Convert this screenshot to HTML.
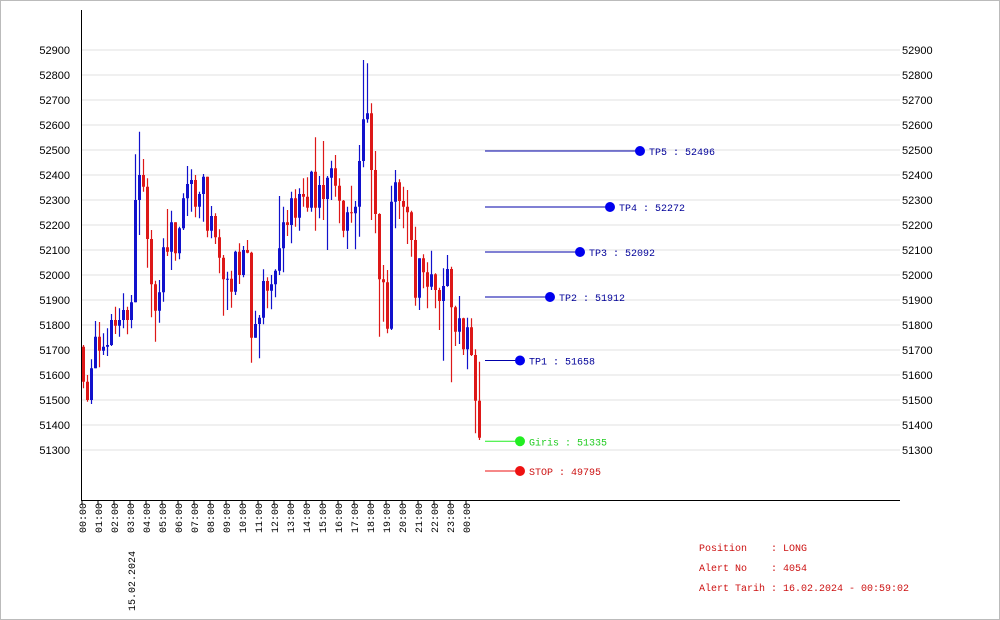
<!DOCTYPE html>
<html><head><meta charset="utf-8"><style>
html,body{margin:0;padding:0;background:#fff}
svg{display:block}
text{font-family:"Liberation Mono",monospace;font-size:10px}
.ax{font-family:"Liberation Sans",sans-serif;font-size:11px;fill:#000}
</style></head><body>
<svg id="chart" width="1000" height="620" viewBox="0 0 1000 620" xmlns="http://www.w3.org/2000/svg">
<rect x="0.5" y="0.5" width="999" height="619" fill="#fff" stroke="#bbb"/>
<g id="grid"></g><g id="candles"></g><g id="levels"></g><g id="axes"></g>
<g fill="#cc1111">
<text x="699" y="551" xml:space="preserve">Position    : LONG</text>
<text x="699" y="571" xml:space="preserve">Alert No    : 4054</text>
<text x="699" y="591" xml:space="preserve">Alert Tarih : 16.02.2024 - 00:59:02</text>
</g>
</svg>
<script>
const opens=[51713,51573,51500,51627,51753,51697,51713,51720,51820,51797,51820,51860,51820,51891,52300,52400,52353,52144,51963,51857,51931,52111,52093,52211,52087,52187,52307,52364,52380,52273,52324,52393,52177,52236,52151,52069,51983,51985,51933,52093,52000,52100,52089,51749,51804,51829,51976,51937,51963,52017,52107,52211,52200,52307,52229,52324,52313,52269,52413,52269,52360,52304,52389,52427,52357,52297,52177,52251,52247,52273,52456,52623,52647,52420,52244,51983,51971,51785,52293,52371,52296,52273,52251,52140,51909,52067,52011,51953,52003,51940,51896,51956,52024,51871,51773,51827,51703,51791,51680,51497];
const highs=[51720,51600,51663,51816,51812,51767,51787,51844,51873,51867,51927,51873,51920,52483,52573,52464,52387,52180,51977,51980,52147,52264,52257,52211,52193,52327,52436,52423,52400,52333,52404,52393,52276,52247,52183,52080,52013,52017,52097,52127,52116,52140,52093,51857,51840,52023,51991,52000,52023,52316,52273,52260,52333,52343,52347,52387,52391,52417,52551,52396,52536,52396,52457,52480,52387,52300,52273,52357,52296,52520,52860,52847,52687,52496,52247,52040,52020,52357,52420,52383,52353,52340,52257,52193,52067,52083,52051,52097,52007,51949,52027,52080,52033,51877,51916,51829,51829,51827,51703,51653];
const lows=[51547,51493,51484,51627,51631,51680,51676,51716,51764,51753,51787,51763,51787,51891,52160,52333,52029,51831,51733,51809,51893,52076,52020,52057,52063,52180,52236,52253,52231,52227,52213,52151,52147,52124,52007,51837,51860,51869,51920,51964,51991,52087,51649,51749,51667,51803,51867,51863,51911,52000,52011,52156,52127,52193,52177,52273,52253,52253,52177,52227,52220,52100,52300,52313,52207,52151,52104,52209,52103,52153,52431,52609,52220,52167,51753,51813,51767,51780,52187,52224,52187,52124,52073,51877,51860,51947,51867,51940,51867,51780,51657,51953,51571,51716,51724,51680,51623,51676,51367,51340];
const closes=[51573,51500,51627,51753,51697,51713,51720,51820,51797,51820,51860,51820,51891,52300,52400,52353,52144,51963,51857,51931,52111,52093,52211,52087,52187,52307,52364,52380,52273,52324,52393,52177,52236,52151,52069,51983,51985,51933,52093,52000,52100,52089,51749,51804,51829,51976,51937,51963,52017,52107,52211,52200,52307,52229,52324,52313,52269,52413,52269,52360,52304,52389,52427,52357,52297,52177,52251,52247,52273,52456,52623,52647,52420,52244,51983,51971,51785,52293,52371,52296,52273,52251,52140,51909,52067,52011,51953,52003,51940,51896,51956,52024,51871,51773,51827,51703,51791,51680,51497,51349];
const yTicks=[52900,52800,52700,52600,52500,52400,52300,52200,52100,52000,51900,51800,51700,51600,51500,51400,51300];
const hourLabels=["00:00","01:00","02:00","03:00","04:00","05:00","06:00","07:00","08:00","09:00","10:00","11:00","12:00","13:00","14:00","15:00","16:00","17:00","18:00","19:00","20:00","21:00","22:00","23:00","00:00"];
const levelNames=["TP5","TP4","TP3","TP2","TP1","Giris","STOP"];
const levelValues=[52496,52272,52092,51912,51658,51335,49795];
const levelColors=["#0000ee","#0000ee","#0000ee","#0000ee","#0000ee","#22ee22","#ee1111"];
const levelDotX=[640,610,580,550,520,520,520];

const NS="http://www.w3.org/2000/svg";
const L=82,R=900,B=500;
function y(v){return Math.max(10,Math.min(471,50+(52900-v)*0.25));}
function xc(i){return 82+i*4+1.5;}
function xh(h){return 82+h*16;}
function mk(tag,attrs,parent){const e=document.createElementNS(NS,tag);for(const k in attrs)e.setAttribute(k,attrs[k]);parent.appendChild(e);return e;}
const grid=document.getElementById('grid'),cg=document.getElementById('candles'),lg=document.getElementById('levels'),ax=document.getElementById('axes');

yTicks.forEach(v=>{
  const ln=mk('line',{x1:L,x2:R,y1:y(v),y2:y(v),stroke:'#e2e2e2','stroke-width':1},grid);
  
  
  const t1=mk('text',{x:70,y:y(v)+4,'text-anchor':'end',class:'ax'},ax);t1.textContent=v;
  
  
  const t2=mk('text',{x:902,y:y(v)+4,class:'ax'},ax);t2.textContent=v;
  
  
});

closes.forEach((c,i)=>{
  const o=opens[i],up=c>=o,col=up?'#1111cc':'#dd1818';
  const w=mk('line',{x1:xc(i),x2:xc(i),y1:y(highs[i]),y2:y(lows[i]),stroke:col,'stroke-width':1.2},cg);
  
  
  const top=y(Math.max(o,c)),bot=y(Math.min(o,c));
  const b=mk('rect',{x:xc(i)-1.5,y:top,width:3,height:Math.max(1,bot-top),fill:col},cg);
  
  
});

levelNames.forEach((n,i)=>{
  const yy=y(levelValues[i]);
  const ln=mk('line',{x1:485,x2:levelDotX[i],y1:yy,y2:yy,stroke:levelColors[i]==='#0000ee'?'#0000aa':levelColors[i],'stroke-width':1},lg);
  
  
  const d=mk('circle',{cx:levelDotX[i],cy:yy,r:5,fill:levelColors[i]},lg);
  
  
  const col=i<5?'#000099':(i===5?'#22cc22':'#cc1111');
  const t=mk('text',{x:levelDotX[i]+9,y:yy+4,fill:col},lg);
  t.textContent=n+" : "+levelValues[i];
  
  
});

const ya=mk('line',{x1:81.5,x2:81.5,y1:10,y2:B,stroke:'#000'},ax);


const xa=mk('line',{x1:81,x2:R,y1:B+0.5,y2:B+0.5,stroke:'#000'},ax);


hourLabels.forEach((h,i)=>{
  const tk=mk('line',{x1:xh(i),x2:xh(i),y1:B,y2:B+5,stroke:'#000'},ax);
  
  
  const t=mk('text',{x:0,y:0,'text-anchor':'end',transform:`translate(${xh(i)+4},503) rotate(-90)`,fill:'#000'},ax);
  t.textContent=h;
  
  
});
const dt=mk('text',{x:0,y:0,'text-anchor':'end',transform:'translate(135,551) rotate(-90)',fill:'#000'},ax);
dt.textContent="15.02.2024";


</script>
</body></html>
